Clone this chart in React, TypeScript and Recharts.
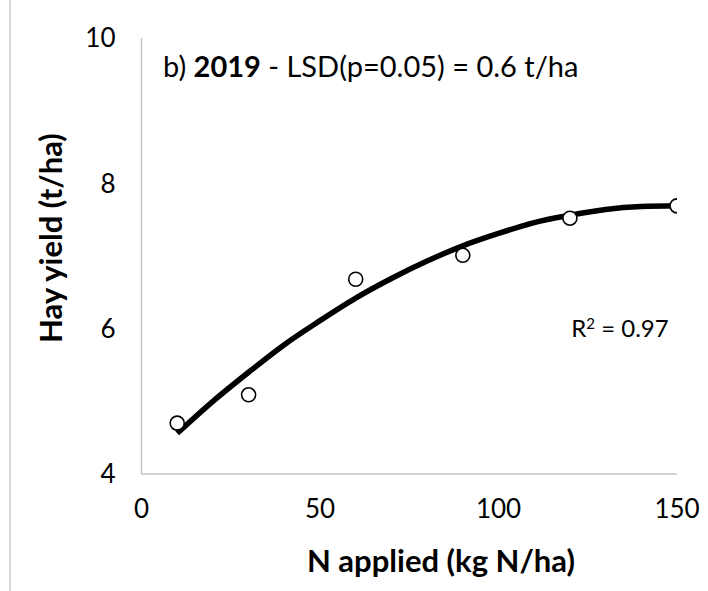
import { ComposedChart, Line, Scatter, XAxis, YAxis } from "recharts"

// observed yields (t/ha) at each N rate
const nRates = [10, 30, 60, 90, 120, 150]
const yields = [4.7, 5.09, 6.68, 7.01, 7.52, 7.69]

// trend line
const trendX = [10, 20, 30, 40, 50, 60, 70, 80, 90, 100, 110, 120, 130, 140, 150]
const trendY = [4.56, 5.0, 5.4, 5.78, 6.11, 6.42, 6.69, 6.93, 7.14, 7.31, 7.46, 7.56, 7.64, 7.68, 7.69]

const xTicks = [0, 50, 100, 150]
const yTicks = [4, 6, 8, 10]

const points = nRates.map((x, i) => ({ x, y: yields[i] }))
const trend = trendX.map((x, i) => ({ x, y: trendY[i] }))

const font = "Lato, 'Open Sans', sans-serif"
const axisColor = "#c4c4c4"

const Circle = (props: any) => {
  const { cx, cy } = props
  return <circle cx={cx} cy={cy} r={7} fill="#fff" stroke="#000" strokeWidth={1.6} />
}

export default function App() {
  return (
    <div style={{ position: "absolute", left: 0, top: 0, width: 708, height: 591, background: "#fff", fontFamily: font }}>
      <div style={{ position: "absolute", left: 9, top: 0, width: 1.5, height: 591, background: "#d9d9d9" }} />
      <ComposedChart width={708} height={591} margin={{ top: 38, right: 31, left: 0, bottom: 0 }}>
        <XAxis
          dataKey="x"
          type="number"
          domain={[0, 150]}
          ticks={xTicks}
          height={117}
          tickLine={false}
          tickSize={0}
          tickMargin={26}
          stroke={axisColor}
          strokeWidth={1.5}
          tick={{ fill: "#000", fontSize: 26, fontFamily: font }}
          allowDataOverflow
        />
        <YAxis
          dataKey="y"
          type="number"
          domain={[4, 10]}
          ticks={yTicks}
          width={141.5}
          tickLine={false}
          tickSize={0}
          tickMargin={26}
          stroke={axisColor}
          strokeWidth={1.5}
          tick={{ fill: "#000", fontSize: 26, fontFamily: font }}
          allowDataOverflow
        />
        <Line
          data={trend}
          dataKey="y"
          type="monotone"
          stroke="#000"
          strokeWidth={5.5}
          dot={false}
          activeDot={false}
          isAnimationActive={false}
        />
        <Scatter data={points} dataKey="y" shape={<Circle />} isAnimationActive={false} />
      </ComposedChart>
      <div style={{ position: "absolute", left: 163, top: 46, fontSize: 29, lineHeight: "40px", whiteSpace: "nowrap", color: "#000" }}>
        b) <b>2019</b> - LSD(p=0.05) = 0.6 t/ha
      </div>
      <div style={{ position: "absolute", left: 520, top: 305, width: 200, textAlign: "center", fontSize: 24, lineHeight: "36px", color: "#000" }}>
        R<sup style={{ fontSize: 15, verticalAlign: "8px" }}>2</sup> = 0.97
      </div>
      <div style={{ position: "absolute", left: 241, top: 540, width: 400, textAlign: "center", fontSize: 31, fontWeight: 700, lineHeight: "40px", color: "#000" }}>
        N applied (kg N/ha)
      </div>
      <div
        style={{
          position: "absolute",
          left: 50 - 200,
          top: 238 - 20,
          width: 400,
          textAlign: "center",
          fontSize: 31,
          fontWeight: 700,
          lineHeight: "40px",
          color: "#000",
          transform: "rotate(-90deg)",
          transformOrigin: "200px 20px",
        }}
      >
        Hay yield (t/ha)
      </div>
    </div>
  )
}
